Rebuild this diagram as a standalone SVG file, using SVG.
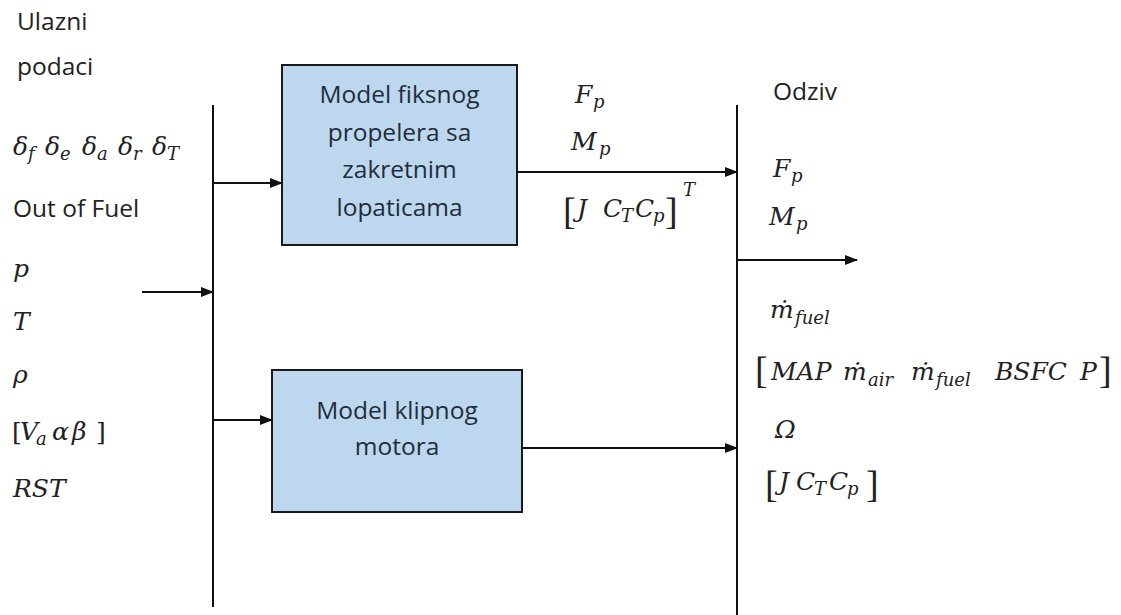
<svg xmlns="http://www.w3.org/2000/svg" width="1121" height="615" viewBox="0 0 1121 615">
<defs>
<style>
.sans{font-family:"Open Sans","Liberation Sans",sans-serif;font-size:24.5px;fill:#222}
.box{fill:#bdd7ee;stroke:#1a1a1a;stroke-width:2}
.bt{font-family:"Open Sans","Liberation Sans",sans-serif;font-size:24.5px;fill:#1f2d3d;text-anchor:middle}
.m{font-family:"DejaVu Serif","Liberation Serif",serif;font-style:italic;font-size:25px;fill:#222}
.s{font-size:18px}
.br{font-family:"Liberation Serif","DejaVu Serif",serif;font-size:38px;fill:#222}
.ln{stroke:#111;stroke-width:2;fill:none}
</style>
<marker id="ah" markerUnits="userSpaceOnUse" markerWidth="13" markerHeight="10" refX="12" refY="5" orient="auto">
<path d="M0,0 L13,5 L0,10 z" fill="#111"/>
</marker>
</defs>
<rect width="1121" height="615" fill="#fff"/>

<g id="inputs">
<text class="sans" x="17" y="30">Ulazni</text>
<text class="sans" x="17" y="75">podaci</text>
<text class="m" y="155"><tspan x="13">δ</tspan><tspan class="s" x="28" dy="5">f</tspan><tspan x="45" dy="-5">δ</tspan><tspan class="s" x="60" dy="5">e</tspan><tspan x="82" dy="-5">δ</tspan><tspan class="s" x="97" dy="5">a</tspan><tspan x="118" dy="-5">δ</tspan><tspan class="s" x="133" dy="5">r</tspan><tspan x="152" dy="-5">δ</tspan><tspan class="s" x="167" dy="5">T</tspan></text>
<text class="sans" x="13" y="217">Out of Fuel</text>
<text class="m" x="13" y="277">p</text>
<text class="m" x="13" y="330">T</text>
<text class="m" x="13" y="383">ρ</text>
<text class="m" y="440"><tspan x="12" font-style="normal">[</tspan><tspan x="20">V</tspan><tspan class="s" x="36" dy="5">a</tspan><tspan x="52" dy="-5">α</tspan><tspan x="72">β</tspan><tspan x="96" font-style="normal">]</tspan></text>
<text class="m" x="13" y="497">RST</text>
</g>

<g id="node-propeler">
<rect class="box" x="282" y="65" width="235" height="180"/>
<text class="bt" x="399.5" y="103">Model fiksnog</text>
<text class="bt" x="399.5" y="141">propelera sa</text>
<text class="bt" x="399.5" y="178">zakretnim</text>
<text class="bt" x="399.5" y="216">lopaticama</text>
</g>

<g id="node-motor">
<rect class="box" x="272" y="370" width="250" height="142"/>
<text class="bt" x="397" y="419">Model klipnog</text>
<text class="bt" x="397" y="455">motora</text>
</g>

<g id="propeler-outputs">
<text class="m" y="103"><tspan x="575">F</tspan><tspan class="s" x="593" dy="5">p</tspan></text>
<text class="m" y="150"><tspan x="571">M</tspan><tspan class="s" x="599" dy="5">p</tspan></text>
<text class="br" x="563" y="224">[</text>
<text class="m" y="217"><tspan x="577">J</tspan><tspan x="603">C</tspan><tspan class="s" x="621" dy="5">T</tspan><tspan x="635" dy="-5">C</tspan><tspan class="s" x="653" dy="5">p</tspan></text>
<text class="br" x="665" y="224">]</text>
<text class="m s" x="683" y="196">T</text>
</g>

<g id="outputs">
<text class="sans" x="773" y="100">Odziv</text>
<text class="m" y="177"><tspan x="773">F</tspan><tspan class="s" x="791" dy="5">p</tspan></text>
<text class="m" y="225"><tspan x="769">M</tspan><tspan class="s" x="796" dy="5">p</tspan></text>
<text class="m" y="318"><tspan x="770">ṁ</tspan><tspan class="s" x="795" dy="6">fuel</tspan></text>
<text class="br" x="755" y="383">[</text>
<text class="m" y="380"><tspan x="771">MAP</tspan><tspan x="843">ṁ</tspan><tspan class="s" x="868" dy="6">air</tspan><tspan x="911" dy="-6">ṁ</tspan><tspan class="s" x="936" dy="6">fuel</tspan><tspan x="995" dy="-6">BSFC</tspan><tspan x="1080">P</tspan></text>
<text class="br" x="1099" y="383">]</text>
<text class="m" x="775" y="438" font-size="20">Ω</text>
<text class="br" x="765" y="497">[</text>
<text class="m" y="490"><tspan x="779">J</tspan><tspan x="796">C</tspan><tspan class="s" x="814" dy="5">T</tspan><tspan x="829" dy="-5">C</tspan><tspan class="s" x="847" dy="5">p</tspan></text>
<text class="br" x="866" y="497">]</text>
</g>

<g id="connectors">
<line class="ln" x1="213" y1="105" x2="213" y2="607"/>
<line class="ln" x1="737" y1="105" x2="737" y2="615"/>
<line class="ln" x1="142" y1="292" x2="213" y2="292" marker-end="url(#ah)"/>
<line class="ln" x1="213" y1="183" x2="282" y2="183" marker-end="url(#ah)"/>
<line class="ln" x1="213" y1="420" x2="272" y2="420" marker-end="url(#ah)"/>
<line class="ln" x1="517" y1="172" x2="737" y2="172" marker-end="url(#ah)"/>
<line class="ln" x1="522" y1="448" x2="737" y2="448" marker-end="url(#ah)"/>
<line class="ln" x1="737" y1="260" x2="857" y2="260" marker-end="url(#ah)"/>
</g>
</svg>
